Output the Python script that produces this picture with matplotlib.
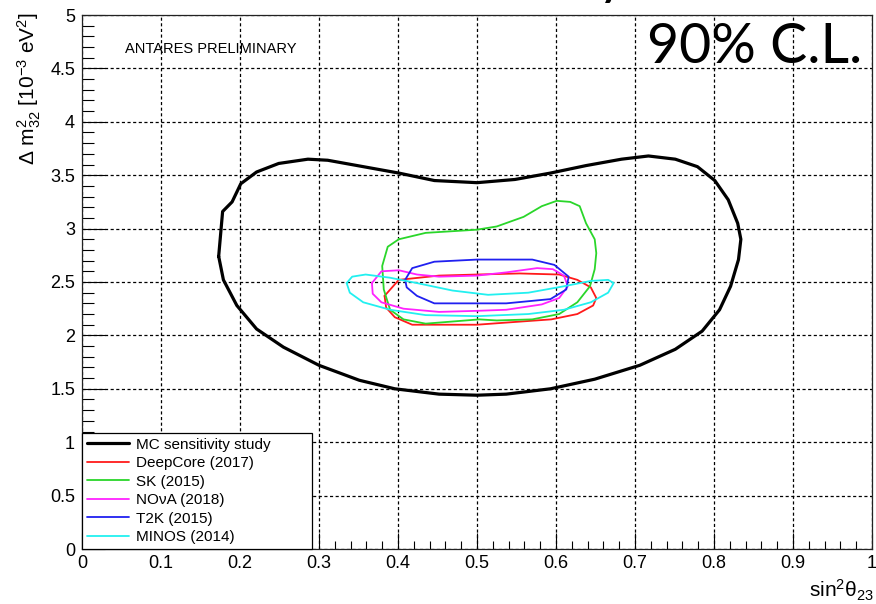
import matplotlib
matplotlib.use("Agg")
import matplotlib.pyplot as plt
from matplotlib.ticker import MultipleLocator

plt.rcParams['font.family'] = ['Liberation Sans', 'DejaVu Sans']
plt.rcParams['mathtext.fontset'] = 'custom'
plt.rcParams['mathtext.rm'] = 'Liberation Sans'
plt.rcParams['mathtext.it'] = 'Liberation Sans:italic'
plt.rcParams['mathtext.bf'] = 'Liberation Sans:bold'

# 90% C.L. contours in the (sin^2 theta_23, Delta m^2_32) plane
mc_x = [0.173, 0.178, 0.190, 0.201, 0.221, 0.249, 0.286, 0.311, 0.356, 0.401, 0.446, 0.500,
        0.548, 0.593, 0.638, 0.683, 0.717, 0.751, 0.779, 0.801, 0.818, 0.830, 0.834, 0.831,
        0.821, 0.807, 0.785, 0.751, 0.706, 0.649, 0.593, 0.537, 0.500, 0.452, 0.396, 0.351,
        0.300, 0.255, 0.221, 0.196, 0.179, 0.173]
mc_y = [2.74, 3.16, 3.25, 3.42, 3.53, 3.61, 3.65, 3.64, 3.58, 3.52, 3.45, 3.43,
        3.46, 3.52, 3.59, 3.65, 3.68, 3.65, 3.58, 3.45, 3.27, 3.05, 2.90, 2.71,
        2.46, 2.24, 2.04, 1.87, 1.72, 1.59, 1.50, 1.45, 1.44, 1.45, 1.50, 1.58,
        1.72, 1.89, 2.06, 2.28, 2.52, 2.74]

deepcore_x = [0.383, 0.401, 0.452, 0.500, 0.554, 0.604, 0.627, 0.644, 0.651, 0.647, 0.627, 0.594,
              0.537, 0.500, 0.452, 0.418, 0.396, 0.385, 0.383]
deepcore_y = [2.37, 2.52, 2.56, 2.57, 2.58, 2.57, 2.52, 2.45, 2.35, 2.28, 2.20, 2.15,
              2.12, 2.10, 2.10, 2.10, 2.17, 2.26, 2.37]

sk_x = [0.401, 0.435, 0.500, 0.525, 0.559, 0.582, 0.601, 0.618, 0.630, 0.638, 0.649, 0.651,
        0.649, 0.643, 0.627, 0.604, 0.570, 0.525, 0.503, 0.469, 0.435, 0.407, 0.390, 0.382,
        0.380, 0.387, 0.401]
sk_y = [2.90, 2.96, 2.99, 3.02, 3.11, 3.21, 3.26, 3.25, 3.21, 3.05, 2.90, 2.77,
        2.62, 2.46, 2.31, 2.20, 2.15, 2.14, 2.15, 2.13, 2.11, 2.15, 2.24, 2.43,
        2.65, 2.83, 2.90]

nova_x = [0.367, 0.379, 0.401, 0.424, 0.452, 0.500, 0.537, 0.576, 0.596, 0.610, 0.615, 0.604,
          0.582, 0.537, 0.500, 0.452, 0.407, 0.379, 0.368, 0.367]
nova_y = [2.49, 2.60, 2.61, 2.57, 2.55, 2.56, 2.59, 2.63, 2.62, 2.56, 2.46, 2.35,
          2.29, 2.24, 2.23, 2.22, 2.25, 2.31, 2.39, 2.49]

t2k_x = [0.409, 0.418, 0.446, 0.500, 0.570, 0.598, 0.616, 0.613, 0.593, 0.537, 0.500, 0.446,
         0.424, 0.411, 0.409]
t2k_y = [2.52, 2.63, 2.69, 2.71, 2.71, 2.66, 2.55, 2.43, 2.34, 2.30, 2.30, 2.30,
         2.37, 2.45, 2.52]

minos_x = [0.335, 0.342, 0.359, 0.390, 0.424, 0.469, 0.514, 0.565, 0.610, 0.644, 0.666, 0.673,
           0.666, 0.644, 0.610, 0.565, 0.500, 0.435, 0.390, 0.356, 0.339, 0.335]
minos_y = [2.49, 2.55, 2.57, 2.54, 2.49, 2.42, 2.38, 2.40, 2.46, 2.51, 2.52, 2.49,
           2.40, 2.31, 2.24, 2.20, 2.18, 2.19, 2.24, 2.31, 2.40, 2.49]

labels = ["MC sensitivity study", "DeepCore (2017)", "SK (2015)",
          "NO\u03bdA (2018)", "T2K (2015)", "MINOS (2014)"]

W, H = 876, 604
fig = plt.figure(figsize=(W / 100, H / 100), dpi=100)
X0, X1, YT, YB = 82, 872, 15, 549
ax = fig.add_axes([X0 / W, 1 - YB / H, (X1 - X0) / W, (YB - YT) / H])

series = [
    (mc_x, mc_y, "black", 2.3),
    (deepcore_x, deepcore_y, "#ff1a1a", 1.3),
    (sk_x, sk_y, "#2ad62a", 1.3),
    (nova_x, nova_y, "#ff22ff", 1.3),
    (t2k_x, t2k_y, "#2020f0", 1.3),
    (minos_x, minos_y, "#22f0f0", 1.3),
]
handles = []
for (xs, ys, col, lw), lab in zip(series, labels):
    h, = ax.plot(xs, ys, color=col, lw=lw, solid_joinstyle="round",
                 solid_capstyle="round", label=lab, zorder=3)
    handles.append(h)

ax.set_xlim(0, 1)
ax.set_ylim(0, 5)
ax.xaxis.set_minor_locator(MultipleLocator(0.02))
ax.yaxis.set_minor_locator(MultipleLocator(0.1))
ax.set_xticks([i / 10 for i in range(11)])
ax.set_xticklabels(["0", "0.1", "0.2", "0.3", "0.4", "0.5", "0.6", "0.7", "0.8", "0.9", "1"])
ax.set_yticks([i / 2 for i in range(11)])
ax.set_yticklabels(["0", "0.5", "1", "1.5", "2", "2.5", "3", "3.5", "4", "4.5", "5"])

ax.tick_params(axis="x", which="major", direction="in", length=11.5, width=0.8,
               labelsize=13, pad=4)
ax.tick_params(axis="x", which="minor", direction="in", length=5.8, width=0.8)
ax.tick_params(axis="y", which="major", direction="in", length=16.5, width=0.8,
               labelsize=13, pad=5)
ax.tick_params(axis="y", which="minor", direction="in", length=8.3, width=0.8)
ax.grid(True, which="major", color="black", lw=0.9, ls=(0, (2.5, 2.0)))
ax.set_axisbelow(True)
for sp in ax.spines.values():
    sp.set_linewidth(0.9)
    sp.set_color("#222222")

leg = ax.legend(handles=handles, loc="lower left",
                bbox_to_anchor=(0, 0, (312 - X0) / (X1 - X0), 0.215),
                mode="expand", fontsize=11, frameon=True, fancybox=False,
                edgecolor="black", framealpha=1, borderaxespad=0, borderpad=0.3,
                labelspacing=0.3, handlelength=2.75, handletextpad=0.5)
leg.get_frame().set_linewidth(0.9)
leg.set_zorder(5)

fig.text(125 / W, 1 - 53 / H, "ANTARES PRELIMINARY", fontsize=10.5,
         ha="left", va="baseline")

fig.text(29 / W, 1 - 12 / H, r"$\Delta\ \mathrm{m}^{2}_{32}\ [10^{-3}\ \mathrm{eV}^{2}]$",
         rotation=90, ha="center", va="top", fontsize=15)
fig.text(874 / W, 1 - 603 / H, r"$\mathrm{sin}^{2}\mathrm{\theta}_{23}$",
         ha="right", va="bottom", fontsize=15)

fig.text(862 / W, 1 - 63 / H, "90% C.L.", family=["Lato", "DejaVu Sans"],
         fontsize=40, ha="right", va="baseline")
# tail of the slide title running off the top edge
fig.text(612 / W, 1 + 7 / H, "y", family=["Lato", "DejaVu Sans"], fontsize=40,
         ha="center", va="baseline")

fig.savefig("out.png", dpi=100, facecolor="white")
